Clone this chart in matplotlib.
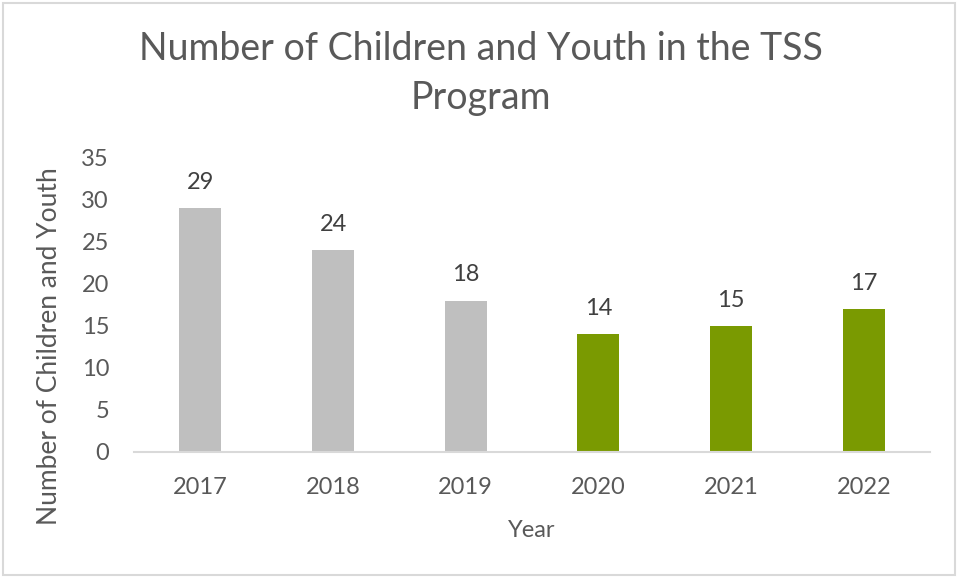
import matplotlib.pyplot as plt
from matplotlib.patches import Rectangle

years = ['2017', '2018', '2019', '2020', '2021', '2022']
counts = [29, 24, 18, 14, 15, 17]
bar_colors = ['#BFBFBF', '#BFBFBF', '#BFBFBF', '#7A9A01', '#7A9A01', '#7A9A01']

plt.rcParams['font.family'] = ['Lato', 'DejaVu Sans']
txt = '#595959'

fig = plt.figure(figsize=(9.58, 5.77), dpi=100)
fig.patches.append(Rectangle((0.003, 0.004), 0.994, 0.991, transform=fig.transFigure,
                             fill=False, edgecolor='#D9D9D9', linewidth=1.5))

ax = fig.add_axes([0.1399, 0.2172, 0.8309, 0.5091])
x = range(len(years))
bars = ax.bar(x, counts, width=0.317, color=bar_colors)
ax.set_xlim(-0.5, len(years) - 0.5)
ax.set_ylim(0, 35)
ax.set_yticks(range(0, 36, 5))
ax.set_xticks(list(x))
ax.set_xticklabels(years)

for b, v in zip(bars, counts):
    ax.annotate(str(v), (b.get_x() + b.get_width() / 2, v), xytext=(0, 11),
                textcoords='offset points', ha='center', va='bottom',
                fontsize=17, color='#404040')

for s in ['top', 'right', 'left']:
    ax.spines[s].set_visible(False)
ax.spines['bottom'].set_color('#D9D9D9')
ax.spines['bottom'].set_linewidth(1.5)
ax.tick_params(axis='both', length=0, labelsize=17, labelcolor=txt)
ax.tick_params(axis='x', pad=18)
ax.tick_params(axis='y', pad=18)

ax.set_xlabel('Year', fontsize=17, color=txt, labelpad=16)
ax.set_ylabel('Number of Children and Youth', fontsize=19, color=txt)
ax.yaxis.set_label_coords(-0.091, 0.36)

fig.text(0.502, 0.873, 'Number of Children and Youth in the TSS\nProgram', ha='center', va='center',
         fontsize=27, color=txt, linespacing=1.45)

fig.savefig('out.png', dpi=100)
